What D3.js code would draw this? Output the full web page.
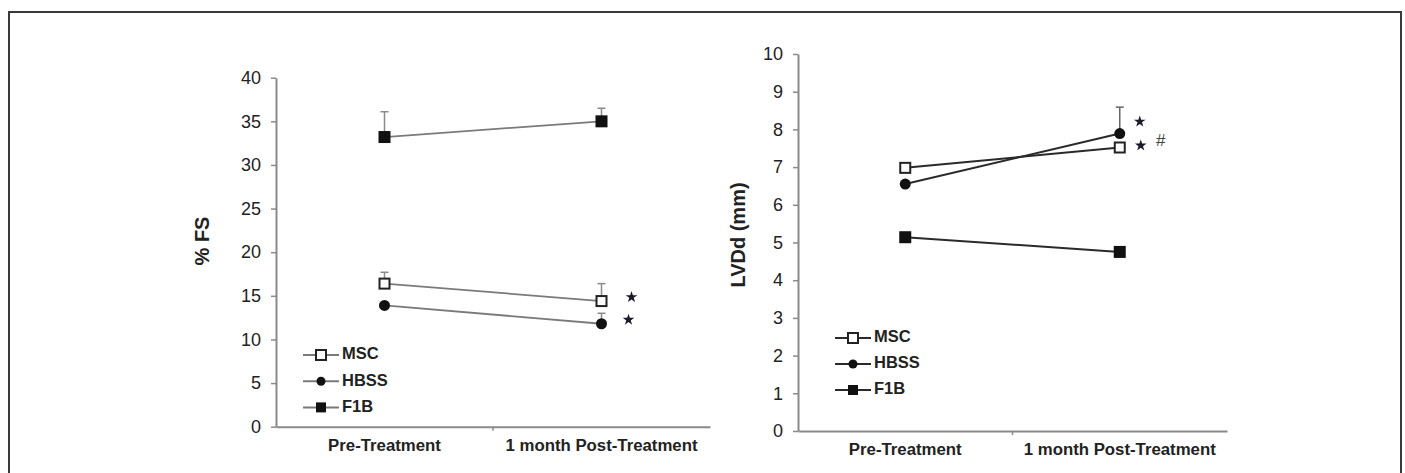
<!DOCTYPE html>
<html><head><meta charset="utf-8">
<script src="https://cdn.jsdelivr.net/npm/d3@7"></script>
<style>html,body{margin:0;padding:0;background:#fff;}svg{display:block;}</style>
</head><body>
<svg id="c" width="1405" height="473"></svg>
<script>
// ---- data ----
const categories = ["Pre-Treatment", "1 month Post-Treatment"];
const seriesNames = ["MSC", "HBSS", "F1B"];

// Left panel: % FS
const fsTicks = [0, 5, 10, 15, 20, 25, 30, 35, 40];
const fsMSC = [16.4, 14.4];
const fsMSCErr = [1.3, 2.0];
const fsHBSS = [13.9, 11.8];
const fsHBSSErr = [0, 1.2];
const fsF1B = [33.2, 35.0];
const fsF1BErr = [2.9, 1.5];
const fsStars = [{series: "MSC", cat: 1, text: "*"}, {series: "HBSS", cat: 1, text: "*"}];

// Right panel: LVDd (mm)
const lvTicks = [0, 1, 2, 3, 4, 5, 6, 7, 8, 9, 10];
const lvMSC = [6.98, 7.52];
const lvMSCErr = [0, 0];
const lvHBSS = [6.55, 7.89];
const lvHBSSErr = [0, 0.7];
const lvF1B = [5.14, 4.75];
const lvF1BErr = [0, 0];

const svg = d3.select("#c");
// frame
svg.append("rect").attr("x", 9).attr("y", 12).attr("width", 1392).attr("height", 480)
  .attr("fill", "none").attr("stroke", "#3a3a3a").attr("stroke-width", 2);

const FONT = "Liberation Sans, Arial, sans-serif";

function panel(cfg) {
  const g = svg.append("g");
  const x = d3.scaleBand().domain(categories).range([cfg.x0, cfg.x1]);
  const y = d3.scaleLinear().domain([0, cfg.max]).range([cfg.y0, cfg.y1]);
  const cx = c => x(c) + x.bandwidth() / 2;

  // y axis
  const ya = g.append("g").attr("transform", `translate(${cfg.x0},0)`)
    .call(d3.axisLeft(y).tickValues(cfg.ticks).tickSize(5).tickPadding(10).tickSizeOuter(0));
  ya.select(".domain").attr("stroke", "#8a8a8a").attr("stroke-width", 2);
  ya.selectAll(".tick line").attr("stroke", "#8a8a8a").attr("stroke-width", 1.5);
  ya.selectAll(".tick text").attr("font-family", FONT).attr("font-size", 18).attr("fill", "#222");

  // x axis
  const xa = g.append("g").attr("transform", `translate(0,${cfg.y0})`)
    .call(d3.axisBottom(x).tickSize(0).tickPadding(12).tickSizeOuter(0));
  xa.select(".domain").attr("stroke", "#8a8a8a").attr("stroke-width", 2);
  xa.selectAll(".tick text").attr("font-family", FONT).attr("font-size", 16.8)
    .attr("font-weight", "bold").attr("fill", "#222");
  // boundary tick between categories
  xa.append("line").attr("x1", x(categories[1])).attr("x2", x(categories[1]))
    .attr("y1", 0).attr("y2", 4).attr("stroke", "#8a8a8a").attr("stroke-width", 1.5);

  // y title
  g.append("text").attr("transform", `translate(${cfg.titleX},${cfg.titleY}) rotate(-90)`)
    .attr("text-anchor", "middle").attr("dominant-baseline", "middle")
    .attr("font-family", FONT).attr("font-size", 20).attr("font-weight", "bold").attr("fill", "#222")
    .text(cfg.title);

  const line = d3.line().x((d, i) => cx(categories[i])).y(d => y(d));
  const series = cfg.series;
  // lines
  series.forEach(s => {
    g.append("path").datum(s.values).attr("d", line).attr("fill", "none")
      .attr("stroke", cfg.lineColor).attr("stroke-width", cfg.lineWidth);
  });
  // error bars (upper)
  series.forEach(s => {
    s.values.forEach((v, i) => {
      const e = s.err[i];
      if (!e) return;
      const px = cx(categories[i]);
      g.append("line").attr("x1", px).attr("x2", px).attr("y1", y(v)).attr("y2", y(v + e))
        .attr("stroke", cfg.errColor).attr("stroke-width", 1.5);
      g.append("line").attr("x1", px - 4).attr("x2", px + 4).attr("y1", y(v + e)).attr("y2", y(v + e))
        .attr("stroke", cfg.errColor).attr("stroke-width", 1.5);
    });
  });
  // markers
  function marker(sel, name, px, py, big) {
    const sq = big ? 12 : 10;
    if (name === "MSC") {
      sel.append("rect").attr("x", px - 5).attr("y", py - 5).attr("width", 10).attr("height", 10)
        .attr("fill", "#fff").attr("stroke", "#222").attr("stroke-width", 2);
    } else if (name === "HBSS") {
      sel.append("circle").attr("cx", px).attr("cy", py).attr("r", big ? 5.5 : 4.5).attr("fill", "#111");
    } else {
      sel.append("rect").attr("x", px - sq / 2).attr("y", py - sq / 2).attr("width", sq).attr("height", sq)
        .attr("fill", "#111");
    }
  }
  series.forEach(s => {
    s.values.forEach((v, i) => marker(g, s.name, cx(categories[i]), y(v), true));
  });
  // annotations
  cfg.annotations.forEach(a => {
    const s = series.find(d => d.name === a.series);
    const py = y(s.values[a.cat]) + a.dy;
    const px = cx(categories[a.cat]) + a.dx;
    if (a.text === "*") {
      g.append("path").attr("transform", `translate(${px},${py})`)
        .attr("d", d3.symbol().type(d3.symbolStar).size(42)()).attr("fill", "#1a1a2a");
    } else {
      g.append("text").attr("x", px).attr("y", py).attr("text-anchor", "middle")
        .attr("dominant-baseline", "middle").attr("font-family", FONT).attr("font-size", 17)
        .attr("fill", "#444").text(a.text);
    }
  });
  // legend
  series.forEach((s, i) => {
    const ly = cfg.legY + i * cfg.legStep;
    g.append("line").attr("x1", cfg.legX).attr("x2", cfg.legX + 36).attr("y1", ly).attr("y2", ly)
      .attr("stroke", cfg.lineColor).attr("stroke-width", 2);
    marker(g, s.name, cfg.legX + 18, ly, false);
    g.append("text").attr("x", cfg.legX + 39).attr("y", ly).attr("dominant-baseline", "middle")
      .attr("font-family", FONT).attr("font-size", 16.5).attr("font-weight", "bold").attr("fill", "#222")
      .text(s.name);
  });
}

panel({
  x0: 276, x1: 710, y0: 426.7, y1: 77.7, max: 40, ticks: fsTicks,
  title: "% FS", titleX: 204, titleY: 241,
  lineColor: "#7a7a7a", lineWidth: 1.8, errColor: "#8a8a8a",
  series: [
    {name: seriesNames[0], values: fsMSC, err: fsMSCErr},
    {name: seriesNames[1], values: fsHBSS, err: fsHBSSErr},
    {name: seriesNames[2], values: fsF1B, err: fsF1BErr}
  ],
  annotations: [
    {series: "MSC", cat: 1, text: fsStars[0].text, dx: 30, dy: -4},
    {series: "HBSS", cat: 1, text: fsStars[1].text, dx: 27, dy: -4}
  ],
  legX: 303, legY: 355, legStep: 26.2
});

panel({
  x0: 798, x1: 1227, y0: 431, y1: 54, max: 10, ticks: lvTicks,
  title: "LVDd (mm)", titleX: 740, titleY: 235,
  lineColor: "#2a2a2a", lineWidth: 2, errColor: "#666",
  series: [
    {name: seriesNames[0], values: lvMSC, err: lvMSCErr},
    {name: seriesNames[1], values: lvHBSS, err: lvHBSSErr},
    {name: seriesNames[2], values: lvF1B, err: lvF1BErr}
  ],
  annotations: [
    {series: "HBSS", cat: 1, text: "*", dx: 20, dy: -12},
    {series: "MSC", cat: 1, text: "*", dx: 21, dy: -2},
    {series: "MSC", cat: 1, text: "#", dx: 41, dy: -6}
  ],
  legX: 835, legY: 338, legStep: 26
});
</script>
</body></html>
